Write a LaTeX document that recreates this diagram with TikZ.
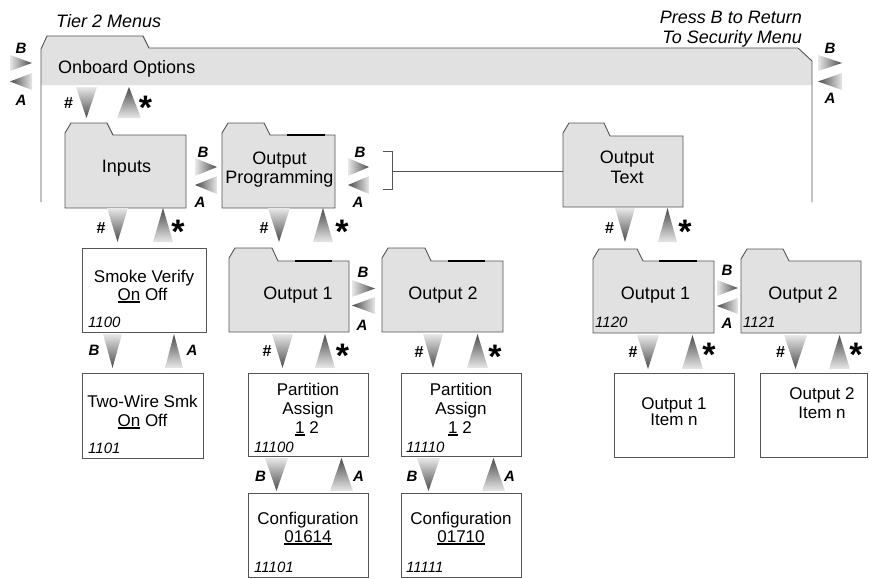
\documentclass[tikz,border=0pt]{standalone}
\usepackage{fontspec}
\setmainfont{Liberation Sans}
\definecolor{fgray}{HTML}{E1E1E1}
\definecolor{edgec}{HTML}{555555}
\definecolor{tril}{HTML}{E8E8E8}
\definecolor{trid}{HTML}{4A4A4A}
\newsavebox\ulbox
\newcommand\ulin[1]{\sbox\ulbox{#1}\rlap{\rule[-2.8pt]{\wd\ulbox}{1.4pt}}\usebox\ulbox}
\newcommand\tridn[4]{\shade[top color=tril, bottom color=trid] (#1,#3) -- (#2,#3) -- ({(#1+#2)/2},#4) -- cycle;}
\newcommand\triup[4]{\shade[top color=trid, bottom color=tril] (#1,#3) -- (#2,#3) -- ({(#1+#2)/2},#4) -- cycle;}
\newcommand\trirt[4]{\shade[left color=tril, right color=trid] (#1,#3) -- (#1,#4) -- (#2,{(#3+#4)/2}) -- cycle;}
\newcommand\trilt[4]{\shade[left color=trid, right color=tril] (#2,#3) -- (#2,#4) -- (#1,{(#3+#4)/2}) -- cycle;}
% folder: xl, xr, ytab, ybody, ybot, xtabend
\newcommand\folderpath[6]{\filldraw[fill=fgray, draw=edgec, line width=0.9pt] (#1,#5) -- (#1,{#3+10}) -- ({#1+6},#3) -- (#6,#3) -- ({#6+6},#4) -- (#2,#4) -- (#2,#5) -- cycle;}
% box: name, x1, y1, x2, y2
\newcommand\mybox[5]{\node[boxst, minimum width={#4-#2}, minimum height={#5-#3}] (#1) at ({(#2+#4)/2},{(#3+#5)/2}) {};}
\begin{document}
\begin{tikzpicture}[x=1pt,y=-1pt,
  edge/.style={draw=edgec, line width=0.9pt},
  lbl/.style={inner sep=0pt, font=\fontsize{17}{19}\selectfont, anchor=base},
  flbl/.style={inner sep=0pt, font=\fontsize{18}{20}\selectfont, anchor=base},
  ital/.style={inner sep=0pt, font=\fontsize{18}{20}\selectfont\itshape},
  code/.style={inner sep=0pt, font=\fontsize{15}{17}\selectfont\itshape, anchor=base west},
  keyl/.style={inner sep=0pt, font=\fontsize{15}{17}\selectfont\bfseries\itshape, anchor=base},
  hash/.style={inner sep=0pt, font=\fontsize{16}{18}\selectfont\bfseries, anchor=base},
  star/.style={inner sep=0pt, font=\fontsize{34}{34}\selectfont\bfseries, anchor=north},
  boxst/.style={draw=edgec, line width=0.9pt, fill=white, inner sep=0pt},
  tabline/.style={draw=black, line width=1.8pt}]
\useasboundingbox (0,0) rectangle (869,578);

% ---- Tier 2 outer folder
\fill[fgray] (41,85) -- (41,49) -- (47,36) -- (143,36) -- (149,48) -- (798,48) -- (812,61) -- (812,85) -- cycle;
\draw[edge] (41,202) -- (41,49) -- (47,36) -- (143,36) -- (149,48) -- (798,48) -- (812,61) -- (812,202);
\node[flbl, anchor=base west] (onb) at (58,74) {Onboard Options};
\node[ital, anchor=base west] (tier) at (56,28) {Tier 2 Menus};
\node[ital, anchor=base east] (press1) at (802,24) {Press B to Return};
\node[ital, anchor=base east] (press2) at (802,44) {To Security Menu};

\trirt{10}{32}{55}{71}\trilt{10}{32}{73}{90}
\node[keyl] (lb) at (21,53) {B};
\node[keyl] (la) at (21,105) {A};
\trirt{818}{842}{55}{71}\trilt{818}{842}{73}{90}
\node[keyl] (rb) at (830,53) {B};
\node[keyl] (ra) at (830,103) {A};

\tridn{76}{97}{87}{118}\triup{117}{141}{118}{87}
\node[hash] (h0) at (68.5,108) {\#};
\node[star] (s0) at (145.5,96) {*};

% ---- Tier folders
\folderpath{65}{186}{123}{135}{208}{107}
\node[flbl] (inp) at (126.5,172) {Inputs};

\folderpath{222}{335}{123}{135}{208}{264}
\draw[tabline] (287,135) -- (325,135);
\node[flbl] (op1) at (279.5,164) {Output};
\node[flbl] (op2) at (279.5,183) {Programming};

\folderpath{563}{683}{123}{136}{207}{604}
\node[flbl] (ot1) at (627,163) {Output};
\node[flbl] (ot2) at (627,183) {Text};

\trirt{195}{217}{158}{176}\trilt{195}{217}{176}{194}
\node[keyl] (b1) at (203,157) {B};
\node[keyl] (a1) at (200,207) {A};
\trirt{348}{369}{158}{176}\trilt{348}{369}{176}{194}
\node[keyl] (b2) at (360,157) {B};
\node[keyl] (a2) at (358,207) {A};

\coordinate (brt) at (383,151);
\coordinate (brb) at (383,189);
\coordinate (brk) at (392,171);
\coordinate (otw) at (563,171);
\draw[edge] (brt) -- (392,151) -- (392,189) -- (brb);
\draw[edge] (brk) -- (otw);

% row 2 arrows
\tridn{107}{128}{208}{242}\triup{153}{173}{242}{208}
\node[hash] (h1) at (101,233) {\#};
\node[star] (s1) at (178,220) {*};
\tridn{268}{290}{208}{242}\triup{313}{333}{242}{208}
\node[hash] (h2) at (264,233) {\#};
\node[star] (s2) at (342,220) {*};
\tridn{615}{635}{208}{242}\triup{658}{677}{242}{208}
\node[hash] (h3) at (609.5,233) {\#};
\node[star] (s3) at (685,220) {*};

% ---- row 3
\mybox{sv}{82}{248}{206}{332}
\node[lbl] (sv1) at (144,282) {Smoke Verify};
\node[lbl] (sv2) at (142.5,300) {\ulin{On} Off};
\node[code] (svc) at (88,327) {1100};

\folderpath{229}{349}{248}{261}{332}{272}
\draw[tabline] (295,261) -- (332,261);
\node[flbl] (o1m) at (298,299) {Output 1};

\folderpath{382}{503}{248}{261}{332}{425}
\draw[tabline] (448,261) -- (485,261);
\node[flbl] (o2m) at (443,299) {Output 2};

\trirt{352}{375}{280}{297}\trilt{352}{375}{297}{314}
\node[keyl] (b3) at (363,277) {B};
\node[keyl] (a3) at (362,330) {A};

\folderpath{593}{714}{249}{261}{333}{637}
\draw[tabline] (659,261) -- (697,261);
\node[flbl] (o1r) at (655.5,299) {Output 1};
\node[code] (o1rc) at (595,327) {1120};

\folderpath{741}{861}{249}{261}{333}{783}
\node[flbl] (o2r) at (803,299) {Output 2};
\node[code] (o2rc) at (743,327) {1121};

\trirt{717}{738}{280}{296}\trilt{717}{738}{298}{314}
\node[keyl] (b4) at (727,275) {B};
\node[keyl] (a4) at (727,328) {A};

% row 3 arrows
\tridn{103}{122}{334}{368}\triup{165}{183}{368}{334}
\node[keyl] (b5) at (94,355) {B};
\node[keyl] (a5) at (192,355) {A};
\tridn{272}{293}{334}{368}\triup{315}{335}{368}{334}
\node[hash] (h4) at (267,356) {\#};
\node[star] (s4) at (342.5,344) {*};
\tridn{423}{443}{334}{368}\triup{467}{488}{368}{334}
\node[hash] (h5) at (419,357) {\#};
\node[star] (s5) at (495,345) {*};
\tridn{637}{659}{335}{369}\triup{682}{703}{369}{335}
\node[hash] (h6) at (633,357) {\#};
\node[star] (s6) at (709,343) {*};
\tridn{784}{807}{335}{369}\triup{829}{850}{369}{335}
\node[hash] (h7) at (780.5,357) {\#};
\node[star] (s7) at (856,343) {*};

% ---- row 4
\mybox{tw}{82}{373}{203}{458}
\node[lbl] (tw1) at (142.5,407) {Two-Wire Smk};
\node[lbl] (tw2) at (142.5,426) {\ulin{On} Off};
\node[code] (twc) at (88,453) {1101};

\mybox{pa1}{248}{373}{368}{456}
\node[lbl] (pa1a) at (308,395) {Partition};
\node[lbl] (pa1b) at (308,414) {Assign};
\node[lbl] (pa1c) at (307,433) {\ulin{1} 2};
\node[code] (pa1d) at (254,452) {11100};

\mybox{pa2}{401}{373}{521}{456}
\node[lbl] (pa2a) at (461,395) {Partition};
\node[lbl] (pa2b) at (461,414) {Assign};
\node[lbl] (pa2c) at (460,433) {\ulin{1} 2};
\node[code] (pa2d) at (406,452) {11110};

\mybox{it1}{614}{373}{734}{457}
\node[lbl] (it1a) at (674,409) {Output 1};
\node[lbl] (it1b) at (674,425) {Item n};

\mybox{it2}{760}{373}{867}{457}
\node[lbl] (it2a) at (822,399) {Output 2};
\node[lbl] (it2b) at (822,418) {Item n};

% row 4 arrows
\tridn{265}{288}{458}{491}\triup{330}{353}{491}{458}
\node[keyl] (b6) at (260.5,481) {B};
\node[keyl] (a6) at (358.5,481) {A};
\tridn{417}{440}{458}{491}\triup{482}{505}{491}{458}
\node[keyl] (b7) at (412,481) {B};
\node[keyl] (a7) at (509.5,481) {A};

% ---- row 5
\mybox{cf1}{248}{493}{368}{577}
\node[lbl] (cf1a) at (308,524) {Configuration};
\node[lbl] (cf1b) at (308,542) {\ulin{01614}};
\node[code] (cf1c) at (254,572) {11101};

\mybox{cf2}{401}{493}{521}{577}
\node[lbl] (cf2a) at (461,524) {Configuration};
\node[lbl] (cf2b) at (461,542) {\ulin{01710}};
\node[code] (cf2c) at (406,572) {11111};
\end{tikzpicture}
\end{document}
